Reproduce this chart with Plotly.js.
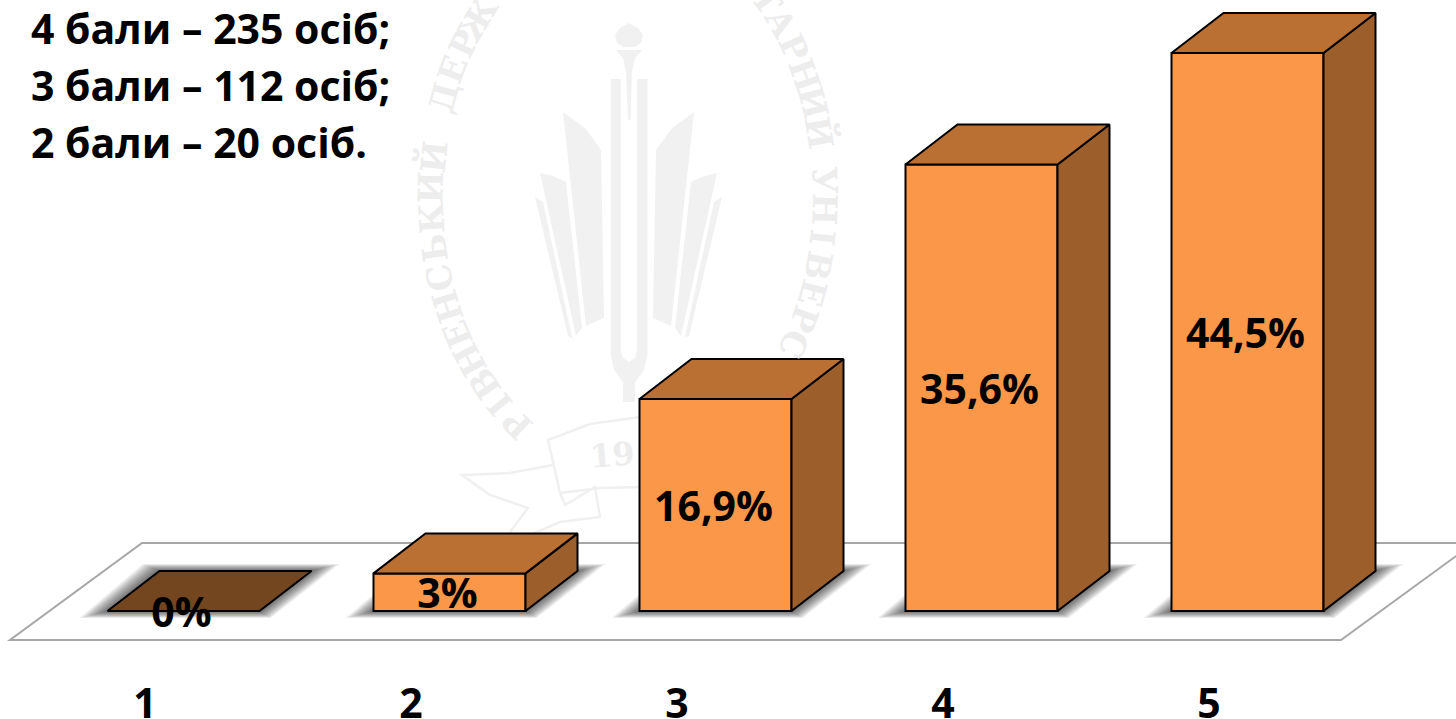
<!DOCTYPE html>
<html><head><meta charset="utf-8">
<script src="https://cdn.plot.ly/plotly-3.0.1.min.js"></script>
<style>html,body{margin:0;padding:0;background:#fff;overflow:hidden}#c{width:1456px;height:719px}</style>
</head><body><div id="c"></div>
<script>
const categories = ["1","2","3","4","5"];
const values = [0, 3, 16.9, 35.6, 44.5];
const valueLabels = ["0%","3%","16,9%","35,6%","44,5%"];
const noteLines = ["4 бали – 235 осіб;","3 бали – 112 осіб;","2 бали – 20 осіб."];

const FRONT="#FA9748", TOP="#BA7033", SIDE="#9C5F2B", ZERO_TOP="#734620", WM="#F1F1F1";
const W=1456,H=719,plotH=660;
const x0=183.5, step=266, yBase=611, yUnit=12.54;
const toX=px=>1+(px-x0)/step, toY=py=>(yBase-py)/yUnit;
const dX=52/step, dY=40/yUnit, barW=152/step;
const positions=categories.map((c,i)=>i+1);
const pathOf=pts=>"M"+pts.map(p=>p[0]+","+p[1]).join("L")+"Z";
const pxPath=pts=>pathOf(pts.map(p=>[toX(p[0]),toY(p[1])]));
const shapes=[];
const wmShape=(d)=>shapes.push({type:"path",layer:"below",xref:"x",yref:"y",path:d,fillcolor:WM,line:{width:0}});
const wmLine=(pts)=>shapes.push({type:"path",layer:"below",xref:"x",yref:"y",
  path:"M"+pts.map(p=>toX(p[0])+","+toY(p[1])).join("L"),line:{color:"#F0F0F0",width:2.5}});
const mir=x=>1257-x;
// watermark: flame, torch, fork, books
wmShape(pxPath([[629,23],[638,28],[643,35],[641,43],[635,47],[623,47],[617,43],[615,35],[620,28]]));
wmShape(pxPath([[616,50],[642,50],[635,58],[632,72],[630.5,120],[628,120],[626,72],[623,58]]));
wmShape(pxPath([[610.7,79],[620.7,79],[620.7,350],[623,358],[629,362],[635,358],[637,350],[637,79],[647.5,79],[647.5,355],[644,370],[635,382],[635,402],[623,402],[623,382],[614,370],[610.7,355]]));
[[[563,112],[585,128],[601,150],[604,318],[586,326]],
 [[540,173],[553,176],[566,182],[582,328],[576,336]],
 [[535,197],[543,202],[572,337],[575,339],[568,336]]].forEach(b=>{
  wmShape(pxPath(b));
  wmShape(pxPath(b.map(p=>[mir(p[0]),p[1]])));
});
// ribbon
wmLine([[640,417],[590,424],[548,440],[560,493],[600,488],[640,487]]);
wmLine([[553,465],[510,473],[462,475],[490,495],[528,508],[510,532]]);
wmLine([[560,493],[565,505],[595,487],[600,517],[560,522],[530,535]]);
// floor
shapes.push({type:"path",layer:"below",xref:"x",yref:"y",
  path:pxPath([[10,640],[1341,640],[1474,543],[142,543]]),fillcolor:"#FFFFFF",line:{color:"#A6A6A6",width:2}});
// soft shadows at the base of each bar
positions.forEach(p=>{
  const l=p-barW/2,r=p+barW/2;
  for(let k=0;k<12;k++){
    const e=(28-k*2.3)/step, v=(7-k*0.55)/yUnit;
    shapes.push({type:"path",layer:"below",xref:"x",yref:"y",
      path:pathOf([[l-e,-v],[r+e*0.4,-v],[r+dX+e,dY+v],[l+dX-e*0.6,dY+v]]),
      fillcolor:"rgba(0,0,0,0.06)",line:{width:0}});
  }
});
// watermark circular text
const annotations=[];
const wmFont={family:"DejaVu Serif",size:34,color:"#EDEDED",weight:700};
const ell=(ch,deg)=>{
  const t=deg*Math.PI/180, px=628+197*Math.cos(t), py=196-275*Math.sin(t);
  const ang=Math.atan2(275*Math.cos(t),197*Math.sin(t))*180/Math.PI;
  annotations.push({xref:"x",yref:"y",x:toX(px),y:toY(py),text:"<b>"+ch+"</b>",showarrow:false,textangle:ang,
    xanchor:"center",yanchor:"middle",font:wmFont});
};
"РІВНЕНСЬКИЙ ДЕРЖАВ".split("").forEach((c,i)=>{if(c!==" ")ell(c,235.8-6.4*i);});
"ТАРНИЙ".split("").forEach((c,i)=>ell(c,45.4-6.4*i));
"УНІВЕРС".split("").forEach((c,i)=>ell(c,3.3-6*i));
annotations.push({xref:"x",yref:"y",x:toX(612),y:toY(455),text:"<b>19</b>",showarrow:false,textangle:-5,
  xanchor:"center",yanchor:"middle",font:{...wmFont,size:32}});
// header lines
const textFont={family:"Open Sans",size:41,color:"#000",weight:700};
noteLines.forEach((t,i)=>annotations.push({xref:"x",yref:"y",x:toX(29),y:toY(28+57*i),text:t,showarrow:false,
  xanchor:"left",yanchor:"middle",font:textFont}));

// 3D faces computed from the values
const face=(pts,color)=>({type:"scatter",mode:"lines",x:pts.map(q=>q[0]).concat(pts[0][0]),y:pts.map(q=>q[1]).concat(pts[0][1]),
  fill:"toself",fillcolor:color,line:{color:"#000",width:2},hoverinfo:"skip",showlegend:false});
const faces=[];
values.forEach((v,i)=>{
  const l=positions[i]-barW/2,r=positions[i]+barW/2;
  if(v>0) faces.push(face([[r,0],[r+dX,dY],[r+dX,v+dY],[r,v]],SIDE));
  faces.push(face([[l,v],[r,v],[r+dX,v+dY],[l+dX,v+dY]],v>0?TOP:ZERO_TOP));
});
const bars={type:"bar",x:positions,y:values,width:barW,marker:{color:FRONT,line:{color:"#000",width:2}},hoverinfo:"skip",showlegend:false};
const labels={type:"scatter",mode:"text",x:positions.map(p=>p-2/step),y:values.map(v=>v/2-6/yUnit),text:valueLabels,
  textposition:"middle center",textfont:textFont,hoverinfo:"skip",showlegend:false};

Plotly.newPlot("c",[bars,...faces,labels],{
  width:W,height:H,margin:{l:0,r:0,t:0,b:H-plotH},paper_bgcolor:"#fff",plot_bgcolor:"rgba(0,0,0,0)",
  showlegend:false,shapes,annotations,
  xaxis:{range:[toX(0),toX(W)],tickmode:"array",tickvals:positions.map(p=>p-38.5/step),ticktext:categories,
    showgrid:false,zeroline:false,showline:false,ticks:"outside",ticklen:8,tickcolor:"rgba(0,0,0,0)",
    tickfont:textFont,fixedrange:true},
  yaxis:{range:[toY(plotH),toY(0)],visible:false,fixedrange:true}
},{displayModeBar:false,staticPlot:true});
</script></body></html>
